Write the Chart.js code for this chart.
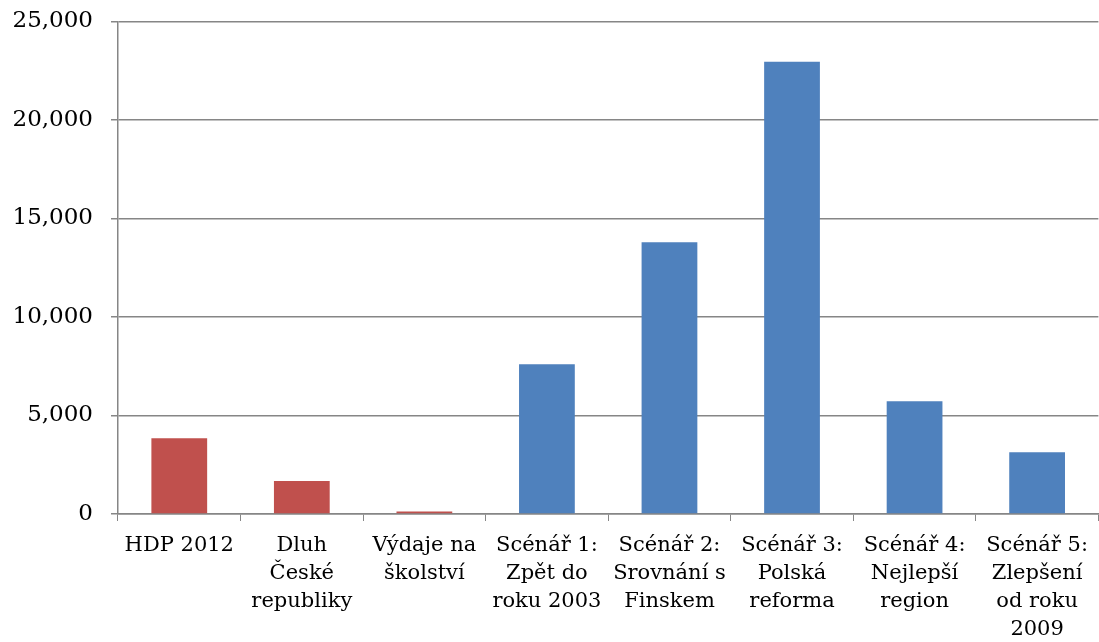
<!DOCTYPE html>
<html>
<head>
<meta charset="utf-8">
<script src="https://cdn.jsdelivr.net/npm/chart.js@4"></script>
<style>
  html, body { margin: 0; padding: 0; background: #fff; }
  #wrap { width: 1099px; height: 642px; position: relative; }
</style>
</head>
<body>
<div id="wrap"><canvas id="chart"></canvas></div>
<script>
  const categories = [
    ["HDP 2012"],
    ["Dluh", "České", "republiky"],
    ["Výdaje na", "školství"],
    ["Scénář 1:", "Zpět do", "roku 2003"],
    ["Scénář 2:", "Srovnání s", "Finskem"],
    ["Scénář 3:", "Polská", "reforma"],
    ["Scénář 4:", "Nejlepší", "region"],
    ["Scénář 5:", "Zlepšení", "od roku", "2009"],
  ];
  const values = [3850, 1670, 130, 7600, 13800, 22960, 5720, 3130];
  const kinds = ["base", "base", "base", "scen", "scen", "scen", "scen", "scen"];
  const yTicks = [0, 5000, 10000, 15000, 20000, 25000];

  const kindColor = { base: "#C0504D", scen: "#4F81BD" };
  const axisGrey = "#868686";
  const xFont = { family: "'DejaVu Serif', Georgia, serif", size: 21, lineHeight: 1.33 };
  const yFont = { family: "'DejaVu Serif', Georgia, serif", size: 23 };

  new Chart(document.getElementById("chart").getContext("2d"), {
    type: "bar",
    data: {
      labels: categories,
      datasets: [
        {
          data: values,
          backgroundColor: kinds.map((k) => kindColor[k]),
          borderWidth: 0,
          categoryPercentage: 1,
          barPercentage: 0.455,
        },
      ],
    },
    options: {
      responsive: true,
      maintainAspectRatio: false,
      animation: false,
      layout: { padding: { top: 21.5, right: 0, left: 0, bottom: 0 } },
      plugins: { legend: { display: false }, tooltip: { enabled: false } },
      scales: {
        x: {
          offset: true,
          grid: {
            offset: true,
            drawOnChartArea: false,
            drawTicks: true,
            tickLength: 7,
            color: axisGrey,
          },
          border: { color: axisGrey, width: 1.5 },
          ticks: {
            color: "#000",
            font: xFont,
            padding: 11,
            maxRotation: 0,
            autoSkip: false,
          },
          afterFit: (s) => { s.height = 128; },
        },
        y: {
          min: 0,
          max: 25000,
          afterBuildTicks: (s) => { s.ticks = yTicks.map((v) => ({ value: v })); },
          grid: { color: axisGrey, lineWidth: 1.5, tickLength: 7 },
          border: { color: axisGrey, width: 1.5 },
          ticks: {
            color: "#000",
            font: yFont,
            padding: 18,
            callback: (v) => Number(v).toLocaleString("en-US"),
          },
          afterFit: (s) => {
            s.width = 118;
            s.paddingTop = 0;
            s.paddingBottom = 0;
          },
        },
      },
    },
  });
</script>
</body>
</html>
